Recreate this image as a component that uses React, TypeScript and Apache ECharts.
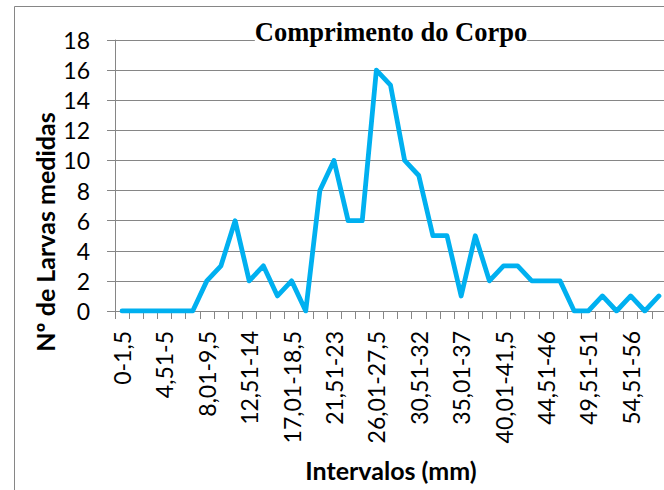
import React, { useEffect, useRef } from "react";
import * as echarts from "echarts";

const categories: string[] = [
  "0-1,5", "1,51-3", "3,01-4,5", "4,51-5", "5,01-6,5", "6,51-8",
  "8,01-9,5", "9,51-11", "11,01-12,5", "12,51-14", "14,01-15,5", "15,51-17",
  "17,01-18,5", "18,51-20", "20,01-21,5", "21,51-23", "23,01-24,5", "24,51-26",
  "26,01-27,5", "27,51-29", "29,01-30,5", "30,51-32", "32,01-33,5", "33,51-35",
  "35,01-37", "37,01-38,5", "38,51-40", "40,01-41,5", "41,51-43", "43,01-44,5",
  "44,51-46", "46,01-47,5", "47,51-49", "49,51-51", "51,01-52,5", "52,51-54",
  "54,51-56", "56,01-57,5", "57,51-59",
];

const larvas: number[] = [
  0, 0, 0, 0, 0, 0, 2, 3, 6, 2, 3, 1, 2, 0, 8, 10, 6, 6, 16, 15,
  10, 9, 5, 5, 1, 5, 2, 3, 3, 2, 2, 2, 0, 0, 1, 0, 1, 0, 1,
];

const yTicks = { min: 0, max: 18, interval: 2 };
const title = "Comprimento do Corpo";
const xName = "Intervalos (mm)";
const yName = "Nº de Larvas medidas";

export default function App() {
  const ref = useRef<HTMLDivElement>(null);
  useEffect(() => {
    if (!ref.current) return;
    const chart = echarts.init(ref.current, undefined, { renderer: "svg" });
    const gray = "#868686";
    chart.setOption({
      animation: false,
      backgroundColor: "#fff",
      textStyle: { fontFamily: "Lato" },
      grid: { left: 115, right: 14, top: 40, bottom: 179 },
      xAxis: {
        type: "category",
        data: categories,
        boundaryGap: true,
        axisLine: { lineStyle: { color: gray, width: 1 } },
        axisTick: { show: true, interval: 0, length: 8, lineStyle: { color: gray } },
        axisLabel: {
          interval: 2,
          rotate: 90,
          margin: 20,
          color: "#000",
          fontSize: 23,
          fontFamily: "Lato",
        },
        splitLine: { show: false },
      },
      yAxis: {
        type: "value",
        min: yTicks.min,
        max: yTicks.max,
        interval: yTicks.interval,
        axisLine: { show: true, lineStyle: { color: gray, width: 1 } },
        axisTick: { show: true, length: 8, lineStyle: { color: gray } },
        axisLabel: { margin: 25, color: "#000", fontSize: 23, fontFamily: "Lato" },
        splitLine: { show: true, lineStyle: { color: gray, width: 1 } },
      },
      series: [
        {
          type: "line",
          data: larvas,
          symbol: "none",
          lineStyle: { color: "#00B0F0", width: 4.8, join: "round", cap: "round" },
          itemStyle: { color: "#00B0F0" },
        },
      ],
      graphic: [
        {
          type: "rect",
          z: -1,
          shape: { x: 14.5, y: 6.5, width: 720, height: 520 },
          style: { fill: "none", stroke: gray, lineWidth: 1 },
        },
        {
          type: "text",
          z: 100,
          x: 391,
          y: 32,
          style: {
            text: title,
            font: "bold 26.5px 'Liberation Serif'",
            fill: "#000",
            textAlign: "center",
            textVerticalAlign: "middle",
            backgroundColor: "#fff",
            padding: [0, 0, 6, 0],
          },
        },
        {
          type: "text",
          z: 100,
          x: 391,
          y: 470,
          style: {
            text: xName,
            font: "bold 25px Lato",
            fill: "#000",
            textAlign: "center",
            textVerticalAlign: "middle",
          },
        },
        {
          type: "text",
          z: 100,
          x: 45,
          y: 232,
          rotation: Math.PI / 2,
          style: {
            text: yName,
            font: "bold 25px Lato",
            fill: "#000",
            textAlign: "center",
            textVerticalAlign: "middle",
          },
        },
      ],
    });
    return () => chart.dispose();
  }, []);
  return (
    <div
      style={{
        position: "fixed",
        left: 0,
        top: 0,
        width: 664,
        height: 490,
        overflow: "hidden",
        background: "#fff",
      }}
    >
      <div ref={ref} style={{ width: 680, height: 490 }} />
    </div>
  );
}
